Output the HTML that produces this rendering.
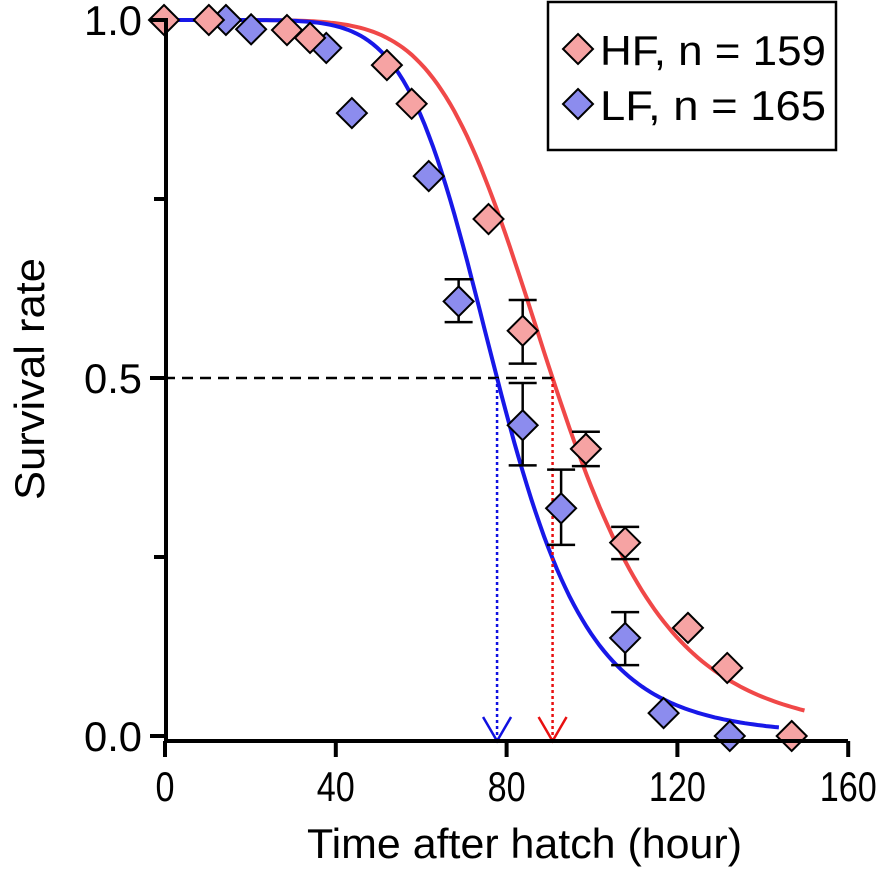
<!DOCTYPE html>
<html><head><meta charset="utf-8"><style>
html,body{margin:0;padding:0;background:#fff;}
svg{display:block;font-family:"Liberation Sans",Arial,sans-serif;}
</style></head><body>
<svg id="chart" width="886" height="872" viewBox="0 0 886 872">
<g id="curves"></g>
<g id="guides"></g>
<g id="errs"></g>
<g id="pts"></g>
<g id="axes"></g>
<text x="307" y="858" font-size="42" textLength="435" lengthAdjust="spacingAndGlyphs">Time after hatch (hour)</text>
<text transform="translate(44,500) rotate(-90)" font-size="42" textLength="242" lengthAdjust="spacingAndGlyphs">Survival rate</text>
<g>
<rect x="548" y="2" width="288" height="148" fill="#fff" stroke="#000" stroke-width="2.5"/>
<g>
<path d="M578,34 L593,49 L578,64 L563,49 Z" fill="#F6A3A3" stroke="#000" stroke-width="2"/>
<text x="600" y="65" font-size="42" textLength="226" lengthAdjust="spacingAndGlyphs">HF, n = 159</text></g>
<g>
<path d="M578,89 L593,104 L578,119 L563,104 Z" fill="#8C8CEE" stroke="#000" stroke-width="2"/>
<text x="600" y="120" font-size="42" textLength="226" lengthAdjust="spacingAndGlyphs">LF, n = 165</text></g>
</g>
</svg>
<script>
const xTicks=[0,40,80,120,160];
const yTicks=[0.0,0.5,1.0];
const yTickLabels=["0.0","0.5","1.0"];
const hfX=[0,10.5,28.8,34.2,52.2,58,76,84,98.8,108,122.7,131.9,147];
const hfY=[1.0,1.0,0.986,0.975,0.937,0.883,0.722,0.566,0.401,0.270,0.151,0.095,0.0];
const lfX=[14.5,20.4,38,44,62,69,84,93,108,117,132.5];
const lfY=[1.0,0.987,0.961,0.870,0.782,0.607,0.434,0.318,0.137,0.032,0.0];
const hfErrX=[84,98.8,108];
const hfErrHi=[0.609,0.425,0.292];
const hfErrLo=[0.520,0.377,0.247];
const lfErrX=[69,84,93,108];
const lfErrHi=[0.638,0.493,0.372,0.173];
const lfErrLo=[0.578,0.378,0.267,0.099];
const medians=[91,78];
const hillSlopes=[6.6,7.2];
const fitEnd=[150,144];

const NS="http://www.w3.org/2000/svg";
const sx=v=>164+v*4.27;
const sy=v=>736-v*716;
function mk(tag,attrs,parent){const e=document.createElementNS(NS,tag);for(const k in attrs)e.setAttribute(k,attrs[k]);document.getElementById(parent).appendChild(e);return e;}

const colors=["#F04848","#1818E8"];
const fills=["#F6A3A3","#8C8CEE"];
const guideCol=["#E81010","#1010E0"];
for(let s=0;s<2;s++){
  let d="";
  for(let x=0;x<=fitEnd[s];x+=1){const y=1/(1+Math.pow(x/medians[s],hillSlopes[s]));d+=(x?"L":"M")+sx(x).toFixed(1)+","+sy(y).toFixed(1);}
  const p=mk("path",{d:d,fill:"none",stroke:colors[s],"stroke-width":4},"curves");
  
  
}
const hl=mk("line",{x1:sx(0),y1:sy(0.5),x2:sx(medians[0]),y2:sy(0.5),stroke:"#000","stroke-width":2.5,"stroke-dasharray":"11,7"},"guides");


for(let s=0;s<2;s++){
  const x=sx(medians[s]);
  const l=mk("line",{x1:x,y1:sy(0.5),x2:x,y2:741,stroke:guideCol[s],"stroke-width":2.5,"stroke-dasharray":"3,3"},"guides");
  
  
  const a=mk("path",{d:`M${x-14},717 L${x},741 L${x+14},717`,fill:"none",stroke:guideCol[s],"stroke-width":2.5},"guides");
  
  
}
function errs(X,H,L,name){
  for(let i=0;i<X.length;i++){
    const x=sx(X[i]);
    const g=mk("path",{d:`M${x},${sy(H[i])}L${x},${sy(L[i])}M${x-14},${sy(H[i])}L${x+14},${sy(H[i])}M${x-14},${sy(L[i])}L${x+14},${sy(L[i])}`,fill:"none",stroke:"#000","stroke-width":2.5},"errs");
    
    
  }
}
errs(hfErrX,hfErrHi,hfErrLo,'hf-error-bar');
errs(lfErrX,lfErrHi,lfErrLo,'lf-error-bar');
function pts(X,Y,fill,name){
  for(let i=0;i<X.length;i++){
    const x=sx(X[i]),y=sy(Y[i]),r=15;
    const p=mk("path",{d:`M${x},${y-r}L${x+r},${y}L${x},${y+r}L${x-r},${y}Z`,fill:fill,stroke:"#000","stroke-width":2},"pts");
    
    
  }
}
pts(lfX,lfY,fills[1],'lf-point');
pts(hfX,hfY,fills[0],'hf-point');
const ya=mk("line",{x1:166,y1:18,x2:166,y2:743,stroke:"#000","stroke-width":4},"axes");


const xa=mk("line",{x1:164,y1:741,x2:848,y2:741,stroke:"#000","stroke-width":4},"axes");


xTicks.forEach(v=>{
  const x=sx(v)+1;
  const t=mk("line",{x1:x,y1:741,x2:x,y2:757,stroke:"#000","stroke-width":4},"axes");
  
  
  const s=String(v);
  const w=s.length*19;
  const tx=mk("text",{x:x-w/2,y:801,"font-size":42,textLength:w,lengthAdjust:"spacingAndGlyphs"},"axes");
  tx.textContent=s;
  
  
});
yTicks.forEach((v,i)=>{
  const y=sy(v);
  const t=mk("line",{x1:150,y1:y,x2:166,y2:y,stroke:"#000","stroke-width":4},"axes");
  
  
  const tx=mk("text",{x:84,y:y+15,"font-size":42,textLength:58,lengthAdjust:"spacingAndGlyphs"},"axes");
  tx.textContent=yTickLabels[i];
  
  
});
[0.25,0.75].forEach(v=>{
  const t=mk("line",{x1:154,y1:sy(v),x2:166,y2:sy(v),stroke:"#000","stroke-width":4},"axes");
  
  
});
</script>
</body></html>
